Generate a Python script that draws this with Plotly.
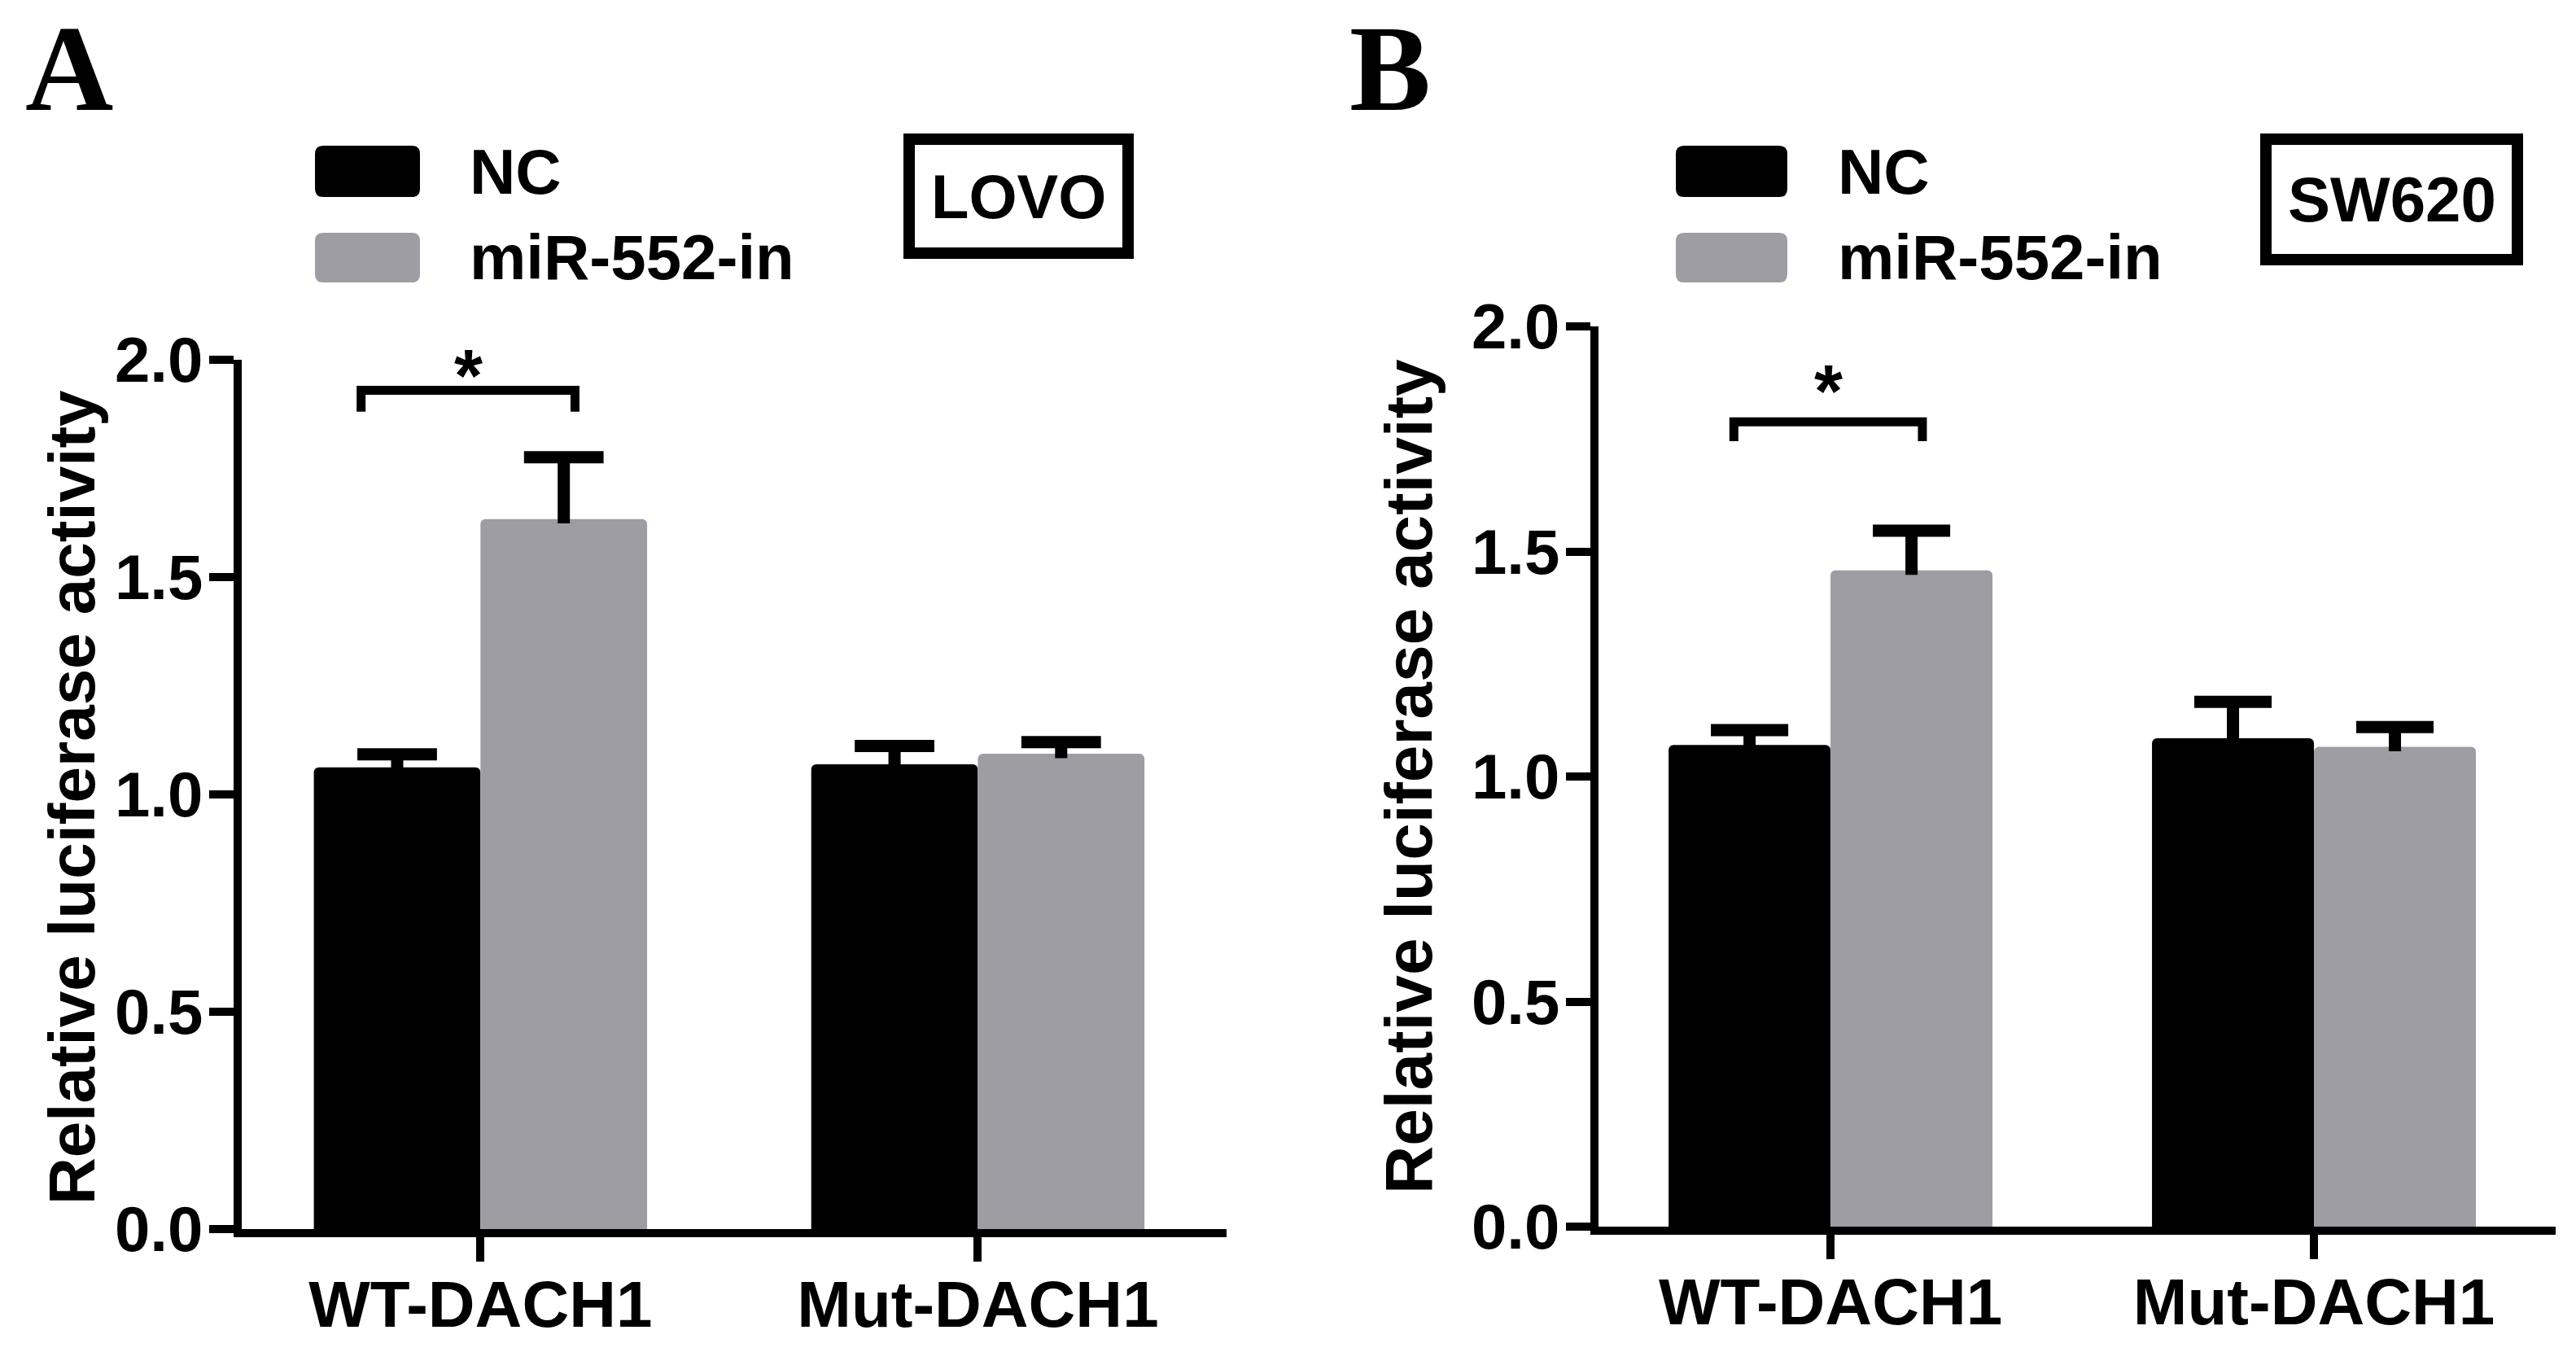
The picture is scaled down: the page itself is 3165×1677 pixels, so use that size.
import plotly.graph_objects as go

W, H = 3165, 1677

# ---- data ----
groups = ["WT-DACH1", "Mut-DACH1"]
series_names = ["NC", "miR-552-in"]
series_colors = ["#000000", "#9e9da4"]

lovo_nc = [1.062, 1.069]
lovo_nc_err = [0.030, 0.042]
lovo_mir = [1.633, 1.093]
lovo_mir_err = [0.142, 0.027]

sw620_nc = [1.070, 1.085]
sw620_nc_err = [0.033, 0.081]
sw620_mir = [1.458, 1.066]
sw620_mir_err = [0.088, 0.044]

y_tickvals = [0.0, 0.5, 1.0, 1.5, 2.0]
y_ticktext = ["0.0", "0.5", "1.0", "1.5", "2.0"]

# significance bracket: group, left/right end, top, bottom of the legs, star height
lovo_sig = {"group": 0, "ends": [-0.24, 0.19], "top": 1.929, "leg": 1.88, "star": 1.985}
sw620_sig = {"group": 0, "ends": [-0.20, 0.19], "top": 1.788, "leg": 1.745, "star": 1.877}

cell_lines = ["LOVO", "SW620"]
panel_letters = ["A", "B"]

BAR_W = 0.335
CAP = 0.08
FONT = "Liberation Sans, Arial, sans-serif"


def px(x):
    return x / W


def py(y):
    return 1 - y / H


def rounded_rect(x0, y0, x1, y1, r):
    # pixel box -> paper path with small rounded corners
    pts = [
        f"M{px(x0 + r)},{py(y0)}",
        f"L{px(x1 - r)},{py(y0)}",
        f"Q{px(x1)},{py(y0)} {px(x1)},{py(y0 + r)}",
        f"L{px(x1)},{py(y1 - r)}",
        f"Q{px(x1)},{py(y1)} {px(x1 - r)},{py(y1)}",
        f"L{px(x0 + r)},{py(y1)}",
        f"Q{px(x0)},{py(y1)} {px(x0)},{py(y1 - r)}",
        f"L{px(x0)},{py(y0 + r)}",
        f"Q{px(x0)},{py(y0)} {px(x0 + r)},{py(y0)}",
        "Z",
    ]
    return " ".join(pts)


panels = [
    {
        "values": [lovo_nc, lovo_mir],
        "errors": [lovo_nc_err, lovo_mir_err],
        "sig": lovo_sig,
        "xa": "x", "ya": "y",
        "xdom": [297, 1507], "ydom": [441.6, 1510],
        "swatch": [387, 516], "text_x": 575,
        "box": [1117, 171, 1386, 311], "box_font": 76,
        "letter_x": 85, "ytitle": [88, 980], "ytitle_size": 80,
    },
    {
        "values": [sw620_nc, sw620_mir],
        "errors": [sw620_nc_err, sw620_mir_err],
        "sig": sw620_sig,
        "xa": "x2", "ya": "y2",
        "xdom": [1964, 3140], "ydom": [401, 1507],
        "swatch": [2059, 2196], "text_x": 2256,
        "box": [2784, 171, 3093, 319], "box_font": 78,
        "letter_x": 1708, "ytitle": [1731, 954], "ytitle_size": 82,
    },
]

fig = go.Figure()
shapes = []
annotations = []

for p_idx, panel in enumerate(panels):
    offsets = [-BAR_W / 2, BAR_W / 2]
    for s_idx, name in enumerate(series_names):
        xs = [g + offsets[s_idx] for g in range(len(groups))]
        vals = panel["values"][s_idx]
        errs = panel["errors"][s_idx]
        fig.add_trace(
            go.Bar(
                x=xs,
                y=vals,
                width=BAR_W,
                name=name,
                marker=dict(color=series_colors[s_idx], line=dict(width=0), cornerradius=6),
                showlegend=False,
                xaxis=panel["xa"],
                yaxis=panel["ya"],
            )
        )
        # upward-only error bars
        ex, ey = [], []
        for xc, v, e in zip(xs, vals, errs):
            ex += [xc, xc, None, xc - CAP, xc + CAP, None]
            ey += [v - 0.01, v + e, None, v + e, v + e, None]
        fig.add_trace(
            go.Scatter(
                x=ex, y=ey, mode="lines",
                line=dict(color="black", width=15),
                showlegend=False, hoverinfo="skip",
                xaxis=panel["xa"], yaxis=panel["ya"],
            )
        )

    sig = panel["sig"]
    left = sig["group"] + sig["ends"][0]
    right = sig["group"] + sig["ends"][1]
    fig.add_trace(
        go.Scatter(
            x=[left, left, right, right],
            y=[sig["leg"], sig["top"], sig["top"], sig["leg"]],
            mode="lines",
            line=dict(color="black", width=11),
            showlegend=False, hoverinfo="skip",
            xaxis=panel["xa"], yaxis=panel["ya"],
        )
    )
    annotations.append(dict(
        x=(left + right) / 2, y=sig["star"], xref=panel["xa"], yref=panel["ya"],
        text="*", showarrow=False, xanchor="center", yanchor="middle", yshift=-12,
        font=dict(family=FONT, size=90, color="black", weight="bold"),
    ))

    # legend (drawn by hand to get the large swatches)
    sx0, sx1 = panel["swatch"]
    for s_idx, (ry0, ry1) in enumerate([(179, 242), (286, 347)]):
        shapes.append(dict(
            type="path", xref="paper", yref="paper",
            path=rounded_rect(sx0, ry0, sx1, ry1, 10),
            fillcolor=series_colors[s_idx], line=dict(width=0),
        ))
        annotations.append(dict(
            x=px(panel["text_x"]), y=py((ry0 + ry1) / 2), xref="paper", yref="paper",
            text=series_names[s_idx], showarrow=False, xanchor="left", yanchor="middle",
            font=dict(family=FONT, size=78, color="black", weight="bold"),
        ))

    # cell line label box
    bx0, by0, bx1, by1 = panel["box"]
    shapes.append(dict(
        type="rect", xref="paper", yref="paper",
        x0=px(bx0), x1=px(bx1), y0=py(by0), y1=py(by1),
        line=dict(color="black", width=14), fillcolor="rgba(0,0,0,0)",
    ))
    annotations.append(dict(
        x=px((bx0 + bx1) / 2), y=py((by0 + by1) / 2), xref="paper", yref="paper",
        text=cell_lines[p_idx], showarrow=False, xanchor="center", yanchor="middle",
        font=dict(family=FONT, size=panel["box_font"], color="black", weight="bold"),
    ))

    # panel letter
    annotations.append(dict(
        x=px(panel["letter_x"]), y=1, xref="paper", yref="paper",
        text=panel_letters[p_idx], showarrow=False, xanchor="center", yanchor="top",
        borderpad=0,
        font=dict(family="Liberation Serif, Times New Roman, serif", size=150,
                  color="black", weight="bold"),
    ))

    # y-axis title
    tx, ty = panel["ytitle"]
    annotations.append(dict(
        x=px(tx), y=py(ty), xref="paper", yref="paper",
        text="Relative luciferase activity", textangle=-90, showarrow=False,
        xanchor="center", yanchor="middle",
        font=dict(family=FONT, size=panel["ytitle_size"], color="black", weight="bold"),
    ))

axis_common = dict(
    showline=True, linewidth=10, linecolor="black",
    ticks="outside", ticklen=30, tickwidth=10, tickcolor="black",
    showgrid=False, zeroline=False, fixedrange=True, automargin=False,
)

layout_axes = {}
for p_idx, panel in enumerate(panels):
    sfx = "" if p_idx == 0 else str(p_idx + 1)
    x0, x1 = panel["xdom"]
    y0, y1 = panel["ydom"]
    layout_axes["xaxis" + sfx] = dict(
        axis_common,
        domain=[px(x0), px(x1)],
        range=[-0.48, 1.5],
        tickvals=list(range(len(groups))),
        ticktext=groups,
        ticklabelstandoff=-16,
        tickfont=dict(family=FONT, size=80, color="black", weight="bold"),
        anchor="y" + sfx,
    )
    layout_axes["yaxis" + sfx] = dict(
        axis_common,
        domain=[py(y1), py(y0)],
        range=[0, 2],
        tickvals=y_tickvals,
        ticktext=y_ticktext,
        ticklabelstandoff=-8,
        tickfont=dict(family=FONT, size=78, color="black", weight="bold"),
        anchor="x" + sfx,
    )

fig.update_layout(
    width=W, height=H,
    margin=dict(l=0, r=0, t=0, b=0, pad=0, autoexpand=False),
    paper_bgcolor="white", plot_bgcolor="white",
    barmode="overlay",
    shapes=shapes,
    annotations=annotations,
    **layout_axes,
)

fig.write_html("out.html", config={"displayModeBar": False},
               post_script="document.body.style.margin='0';")
